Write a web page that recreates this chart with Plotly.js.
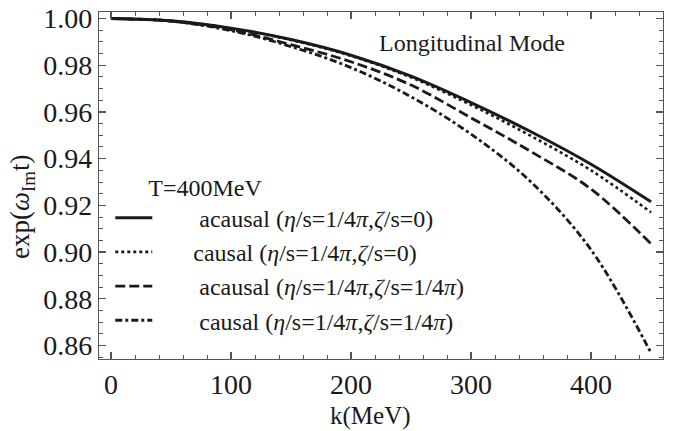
<!DOCTYPE html>
<html>
<head>
<meta charset="utf-8">
<script src="https://cdn.plot.ly/plotly-3.0.1.min.js"></script>
<style>
  html, body { margin: 0; padding: 0; background: #fff; }
  #chart { width: 683px; height: 431px; }
</style>
</head>
<body>
<div id="chart"></div>
<script>
// Momentum grid (MeV)
const kValues = [0, 50, 100, 150, 200, 250, 300, 350, 400, 450];

// exp(ω_Im t) for each hydrodynamic setup, T = 400 MeV
const acausalShear = [1.000, 0.9990, 0.9959, 0.9910, 0.9843, 0.9753, 0.9640, 0.9515, 0.9376, 0.9215];
const causalShear  = [1.000, 0.9990, 0.9958, 0.9908, 0.9840, 0.9748, 0.9630, 0.9497, 0.9350, 0.9170];
const acausalBulk  = [1.000, 0.9989, 0.9952, 0.9888, 0.9815, 0.9715, 0.9575, 0.9430, 0.9270, 0.9035];
const causalBulk   = [1.000, 0.9989, 0.9948, 0.9880, 0.9790, 0.9665, 0.9505, 0.9300, 0.9010, 0.8568];

const seriesNames = [
  'acausal (<i>η</i>/s=1/4<i>π</i>,<i>ζ</i>/s=0)',
  'causal (<i>η</i>/s=1/4<i>π</i>,<i>ζ</i>/s=0)',
  'acausal (<i>η</i>/s=1/4<i>π</i>,<i>ζ</i>/s=1/4<i>π</i>)',
  'causal (<i>η</i>/s=1/4<i>π</i>,<i>ζ</i>/s=1/4<i>π</i>)'
];

const xTicks = [0, 100, 200, 300, 400];
const yTicks = [0.86, 0.88, 0.90, 0.92, 0.94, 0.96, 0.98, 1.00];
const yTickText = ['0.86', '0.88', '0.90', '0.92', '0.94', '0.96', '0.98', '1.00'];

const FONT = 'Liberation Serif';
const INK = '#1a1a1a';
const pad = '\u00A0';

function curve(y, name, dash, width, lead, group) {
  return {
    x: kValues, y: y, type: 'scatter', mode: 'lines',
    name: pad.repeat(lead) + name,
    legendgroup: group,
    line: { color: INK, width: width, dash: dash, shape: 'spline', smoothing: 1 },
    hoverinfo: 'skip'
  };
}

const traces = [
  curve(acausalShear, seriesNames[0], 'solid', 3, 7, 'g1'),
  curve(causalShear,  seriesNames[1], '3px,3px', 2.6, 6, 'g2'),
  curve(acausalBulk,  seriesNames[2], '10px,4px', 2.8, 7, 'g3'),
  curve(causalBulk,   seriesNames[3], '7px,3px,3px,3px', 2.8, 7, 'g4')
];

const axisCommon = {
  showgrid: false, zeroline: false, showline: true, mirror: 'ticks',
  linecolor: '#555', linewidth: 1.2,
  ticks: 'inside', ticklen: 7, tickwidth: 1.2, tickcolor: '#555',
  tickfont: { family: FONT, size: 28, color: INK }
};

const layout = {
  width: 683, height: 431,
  margin: { l: 99, r: 20, t: 12, b: 72 },
  paper_bgcolor: '#fff', plot_bgcolor: '#fff',
  font: { family: FONT, color: INK },
  showlegend: true,
  xaxis: Object.assign({}, axisCommon, {
    range: [-10, 460],
    tickvals: xTicks,
    ticktext: xTicks.map(String),
    minor: { ticks: 'inside', ticklen: 4, dtick: 20, tick0: 0, tickcolor: '#555', tickwidth: 1 }
  }),
  yaxis: Object.assign({}, axisCommon, {
    range: [0.8542, 1.0028],
    tickvals: yTicks,
    ticktext: yTickText,
    minor: { ticks: 'inside', ticklen: 4, dtick: 0.005, tick0: 0.86, tickcolor: '#555', tickwidth: 1 }
  }),
  legend: {
    x: 0.02, xanchor: 'left',
    y: 0.561, yanchor: 'top',
    bgcolor: 'rgba(0,0,0,0)',
    font: { family: FONT, size: 24, color: INK },
    itemwidth: 37,
    tracegroupgap: 0,
    title: { text: pad.repeat(6) + 'T=400MeV', font: { family: FONT, size: 24, color: INK } }
  },
  annotations: [
    {
      text: 'Longitudinal Mode', xref: 'paper', yref: 'paper',
      x: 0.661, y: 0.911, xanchor: 'center', yanchor: 'middle', showarrow: false,
      font: { family: FONT, size: 24, color: INK }
    },
    {
      text: 'k(MeV)', xref: 'paper', yref: 'paper',
      x: 0.4805, y: -0.164, xanchor: 'center', yanchor: 'middle', showarrow: false,
      font: { family: FONT, size: 25, color: INK }
    },
    {
      text: 'exp(<i>ω</i><sub>Im</sub>t)', xref: 'paper', yref: 'paper',
      x: -0.1365, y: 0.438, xanchor: 'center', yanchor: 'middle', showarrow: false,
      textangle: -90,
      font: { family: FONT, size: 27, color: INK }
    }
  ]
};

Plotly.newPlot('chart', traces, layout, { displayModeBar: false, staticPlot: true });
</script>
</body>
</html>
